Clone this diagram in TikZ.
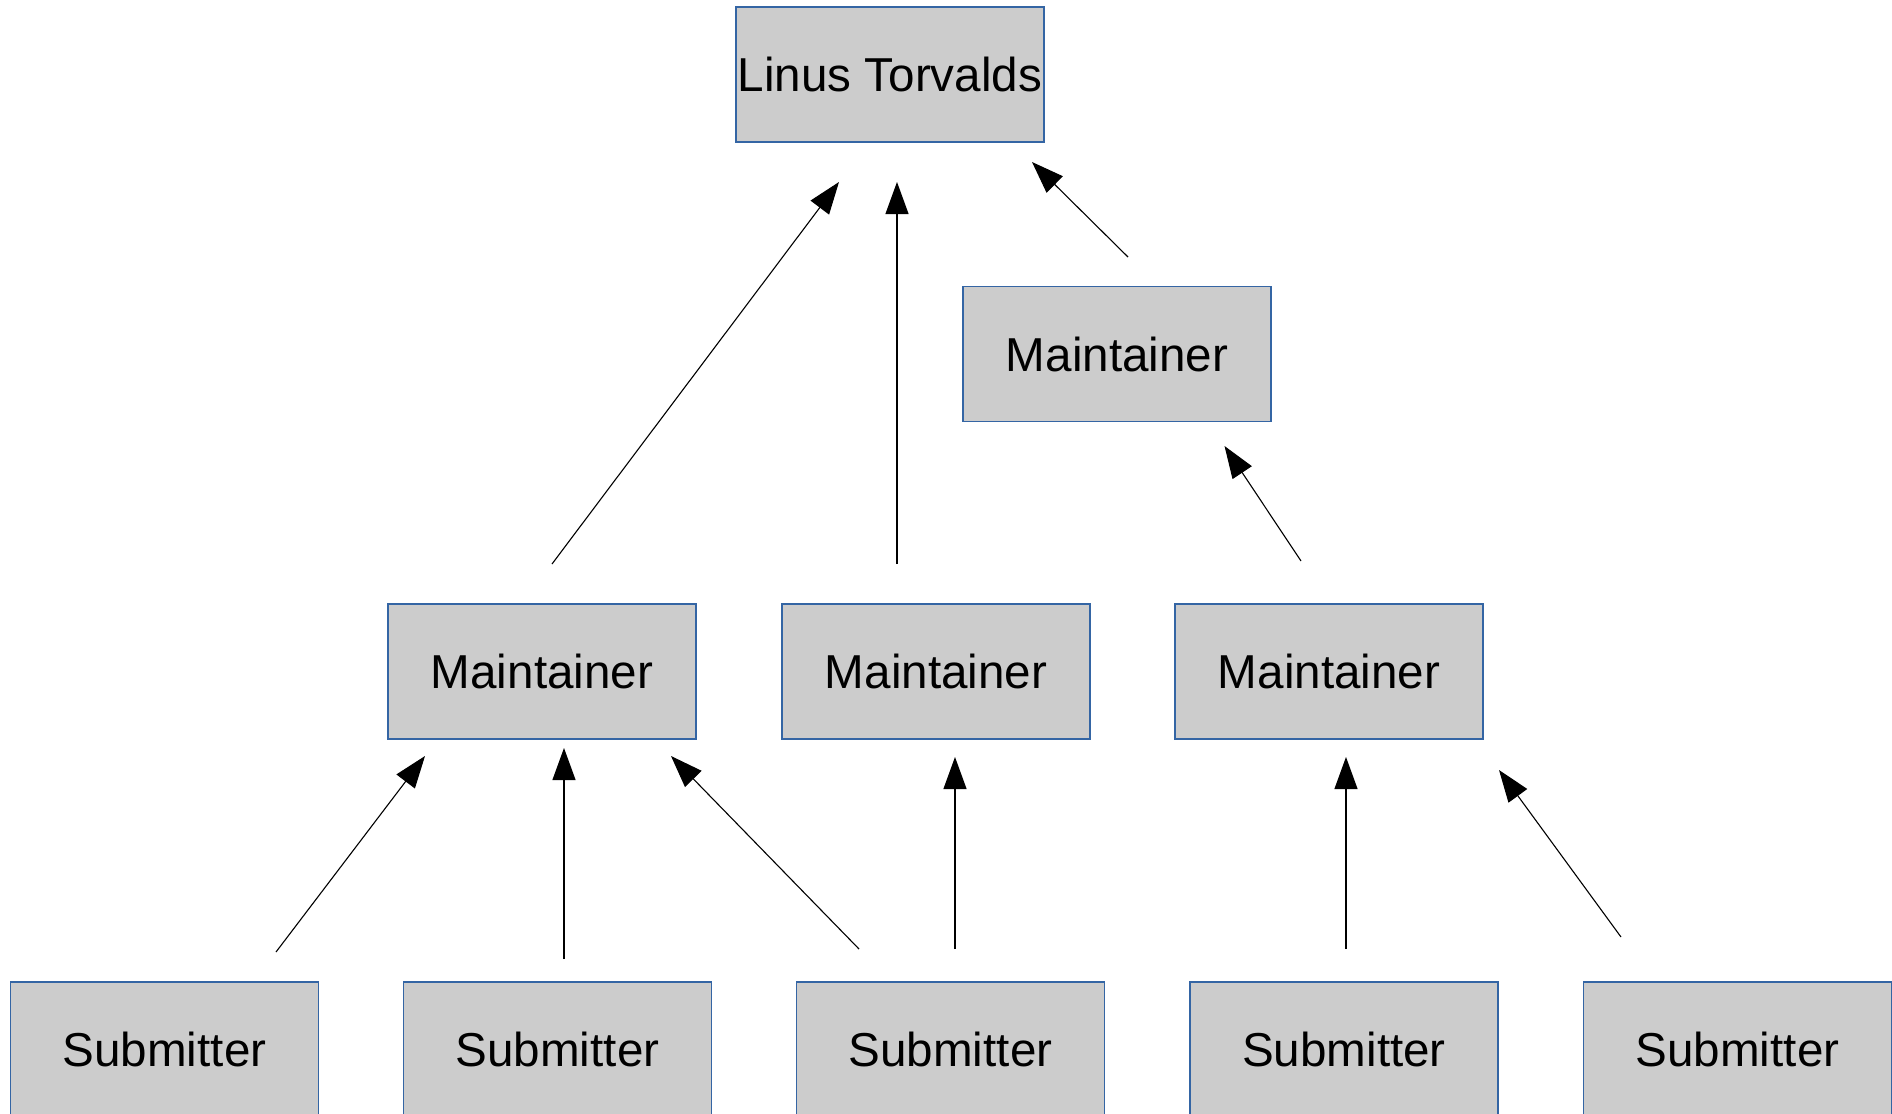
\documentclass[tikz,border=0pt]{standalone}
\usepackage{fontspec}
\setmainfont{Liberation Sans}
\usetikzlibrary{arrows.meta}
\definecolor{boxfill}{RGB}{204,204,204}
\definecolor{boxline}{RGB}{52,101,164}
\tikzset{
  person/.style={draw=boxline, fill=boxfill, line width=0.6pt,
    minimum width=154pt, minimum height=67.5pt, inner sep=0pt,
    font=\fontsize{23.8}{28}\selectfont},
  feed/.style={draw=black, line width=0.55pt,
    -{Triangle[length=16pt, width=11.5pt]}}
}
\begin{document}
\begin{tikzpicture}[x=0.5pt, y=-0.5pt]
  \useasboundingbox (0,0) rectangle (1892,1114);
  \clip (0,0) rectangle (1892,1114);

  % people
  \node[person] (linus) at (890,74.5)   {Linus Torvalds};
  \node[person] (mtop)  at (1117,354)   {Maintainer};
  \node[person] (m1)    at (542,671.5)  {Maintainer};
  \node[person] (m2)    at (936,671.5)  {Maintainer};
  \node[person] (m3)    at (1329,671.5) {Maintainer};
  \node[person] (s1)    at (164.5,1049.5)  {Submitter};
  \node[person] (s2)    at (557.5,1049.5)  {Submitter};
  \node[person] (s3)    at (950.5,1049.5)  {Submitter};
  \node[person] (s4)    at (1344,1049.5)   {Submitter};
  \node[person] (s5)    at (1737.5,1049.5) {Submitter};

  % free-floating arrow ends between the levels
  \coordinate (m1up)   at (552,564);   \coordinate (linA) at (839,182);
  \coordinate (m2up)   at (897,564);   \coordinate (linB) at (897,182);
  \coordinate (mtopup) at (1128,257);  \coordinate (linC) at (1032,162);
  \coordinate (m3up)   at (1301,561);  \coordinate (mtopin) at (1224.5,446);
  \coordinate (s1up)   at (276,952);   \coordinate (m1A) at (425,756);
  \coordinate (s2up)   at (564,959);   \coordinate (m1B) at (564,748);
  \coordinate (s3upL)  at (859,949);   \coordinate (m1C) at (671,756);
  \coordinate (s3upR)  at (955,949);   \coordinate (m2in) at (955,757);
  \coordinate (s4up)   at (1346,949);  \coordinate (m3A) at (1346,757);
  \coordinate (s5up)   at (1621,937);  \coordinate (m3B) at (1499,770);

  % patch flow
  \draw[feed] (m1up) -- (linA);
  \draw[feed] (m2up) -- (linB);
  \draw[feed] (mtopup) -- (linC);
  \draw[feed] (m3up) -- (mtopin);
  \draw[feed] (s1up) -- (m1A);
  \draw[feed] (s2up) -- (m1B);
  \draw[feed] (s3upL) -- (m1C);
  \draw[feed] (s3upR) -- (m2in);
  \draw[feed] (s4up) -- (m3A);
  \draw[feed] (s5up) -- (m3B);
\end{tikzpicture}
\end{document}
